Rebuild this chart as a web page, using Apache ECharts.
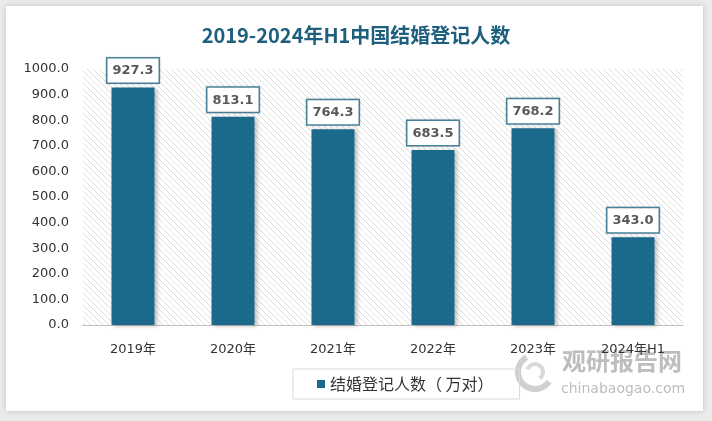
<!DOCTYPE html>
<html><head><meta charset="utf-8">
<script src="https://cdn.jsdelivr.net/npm/echarts@6/dist/echarts.min.js"></script>
<style>
html,body{margin:0;padding:0;width:712px;height:421px;background:#ebebeb;overflow:hidden}
#card{position:absolute;left:6px;top:6px;width:697px;height:405px;background:#fff;box-shadow:0 0 6px rgba(0,0,0,0.18)}
#chart{position:absolute;left:0;top:0;width:712px;height:421px}
</style></head>
<body><div id="card"></div><div id="chart"></div>
<script>
const categories = ['2019年','2020年','2021年','2022年','2023年','2024年H1'];
const values = [927.3, 813.1, 764.3, 683.5, 768.2, 343.0];
const seriesName = '结婚登记人数（ 万对）';
const titleText = '2019-2024年H1中国结婚登记人数';

const pc = document.createElement('canvas');
pc.width = 6; pc.height = 6;
const g = pc.getContext('2d');
g.fillStyle = '#ffffff'; g.fillRect(0,0,6,6);
g.strokeStyle = '#dcdcdc'; g.lineWidth = 1;
g.beginPath();
g.moveTo(0,0); g.lineTo(6,6);
g.moveTo(-3,3); g.lineTo(3,9);
g.moveTo(3,-3); g.lineTo(9,3);
g.stroke();

const chart = echarts.init(document.getElementById('chart'));
chart.setOption({
  backgroundColor: 'transparent',
  animation: false,
  title: {
    text: titleText, left: 'center', top: 20,
    textStyle: {fontFamily: '"Liberation Sans Narrow","Noto Sans CJK SC",sans-serif', fontSize: 20, fontWeight: 'bold', color: '#1e5f7e'}
  },
  grid: {left: 83, right: 29, top: 69, bottom: 96, show: true, backgroundColor: {image: pc, repeat: 'repeat'}, borderWidth: 0},
  legend: {
    data: [seriesName], left: 293, top: 369, itemWidth: 8, itemHeight: 8, icon: 'rect',
    padding: [7, 26, 7, 24], borderColor: '#d9d9d9', borderWidth: 1, itemGap: 4,
    textStyle: {fontSize: 16, color: '#333', fontFamily: '"Noto Sans CJK SC",sans-serif'}
  },
  xAxis: {
    type: 'category', data: categories,
    axisLine: {lineStyle: {color: '#bfbfbf'}}, axisTick: {show: false},
    axisLabel: {fontSize: 13, color: '#333', margin: 18, fontFamily: '"DejaVu Sans","Noto Sans CJK SC",sans-serif'}
  },
  yAxis: {
    type: 'value', min: 0, max: 1000, interval: 100,
    splitLine: {show: false}, axisLine: {show: false}, axisTick: {show: false},
    axisLabel: {fontSize: 13, color: '#333', margin: 14, formatter: v => v.toFixed(1), fontFamily: '"DejaVu Sans",sans-serif'}
  },
  series: [{
    name: seriesName, type: 'bar', data: values, barWidth: '43%',
    itemStyle: {color: '#1b6a8c', shadowColor: 'rgba(0,0,0,0.25)', shadowBlur: 4, shadowOffsetX: 2, shadowOffsetY: 1},
    label: {
      show: true, position: 'top', distance: 5, formatter: p => p.value.toFixed(1),
      fontSize: 13, fontWeight: 'bold', color: '#595959', fontFamily: '"DejaVu Sans",sans-serif',
      backgroundColor: '#fff', borderColor: '#4f88a3', borderWidth: 1.5, padding: [6, 5, 5, 5],
      shadowColor: 'rgba(0,0,0,0.2)', shadowBlur: 2
    }
  }],
  graphic: [
    {type: 'arc', shape: {cx: 535, cy: 372, r: 17, startAngle: 0.6, endAngle: 4.2}, style: {stroke: '#d0d0d0', lineWidth: 6, fill: null}, z: 0},
    {type: 'arc', shape: {cx: 535, cy: 372, r: 8, startAngle: 3.5, endAngle: 7.2}, style: {stroke: '#d8d8d8', lineWidth: 4, fill: null}, z: 0},
    {type: 'text', left: 562, top: 349, style: {text: '观研报告网', fontSize: 24, fontWeight: 'bold', fill: '#bdbdbd', fontFamily: '"Noto Sans CJK SC",sans-serif'}, z: 0},
    {type: 'text', left: 561, top: 382, style: {text: 'chinabaogao.com', fontSize: 14, fill: '#bdbdbd', fontFamily: '"DejaVu Sans",sans-serif'}, z: 0}
  ]
});
</script></body></html>
